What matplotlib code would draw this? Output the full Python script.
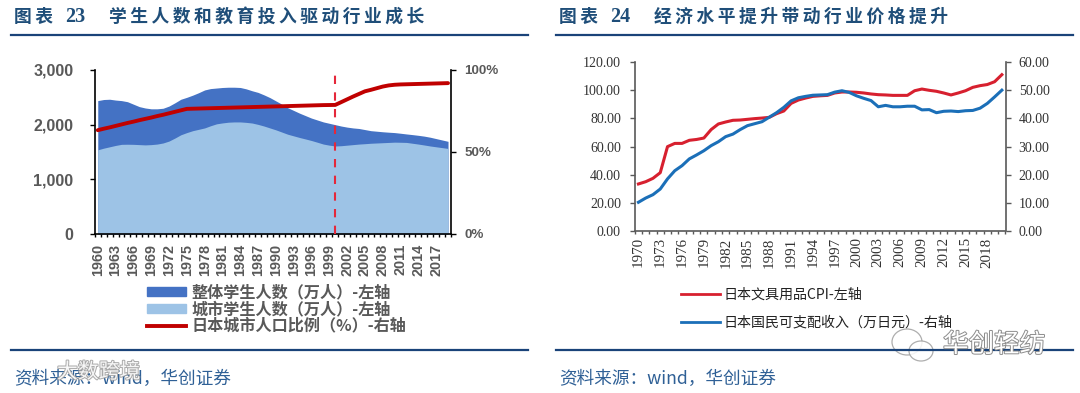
import matplotlib
matplotlib.use('Agg')
import matplotlib.pyplot as plt
import numpy as np
from matplotlib.lines import Line2D
from matplotlib.patches import Ellipse, Patch
import matplotlib.patheffects as pe

W, H = 1080, 393
CJK = ['Noto Sans CJK SC', 'DejaVu Sans']
TITLE_BLUE = '#1f4e79'
RULE_BLUE = '#1a4379'

# chart 23
years_a = list(range(1960, 2020))
total_students = [2440, 2460, 2465, 2450, 2440, 2420, 2375, 2330, 2305, 2290,
                  2290, 2300, 2340, 2400, 2465, 2500, 2540, 2585, 2635, 2660,
                  2670, 2680, 2685, 2685, 2680, 2655, 2620, 2590, 2545, 2495,
                  2435, 2375, 2310, 2260, 2210, 2165, 2120, 2085, 2050, 2025,
                  2000, 1975, 1955, 1940, 1930, 1910, 1890, 1880, 1870, 1862,
                  1855, 1843, 1830, 1818, 1805, 1790, 1770, 1745, 1720, 1695]
urban_students = [1540, 1570, 1595, 1620, 1640, 1642, 1640, 1635, 1630, 1635,
                  1645, 1665, 1700, 1755, 1815, 1855, 1890, 1915, 1940, 1980,
                  2015, 2032, 2045, 2050, 2050, 2042, 2030, 2005, 1975, 1940,
                  1905, 1865, 1825, 1795, 1765, 1738, 1710, 1678, 1645, 1625,
                  1610, 1615, 1625, 1635, 1645, 1652, 1660, 1665, 1670, 1675,
                  1680, 1678, 1675, 1660, 1645, 1628, 1610, 1595, 1580, 1565]
urban_ratio = [63.3, 64.2, 65.0, 65.9, 66.8, 67.7, 68.5, 69.4, 70.2, 71.0,
               71.9, 72.7, 73.6, 74.5, 75.4, 76.3, 76.4, 76.5, 76.6, 76.7,
               76.8, 76.9, 77.0, 77.1, 77.2, 77.3, 77.4, 77.5, 77.6, 77.7,
               77.8, 77.9, 78.0, 78.1, 78.2, 78.3, 78.4, 78.5, 78.6, 78.65,
               78.7, 80.4, 82.1, 83.8, 85.4, 87.0, 87.9, 88.9, 89.9, 90.6,
               91.0, 91.2, 91.3, 91.4, 91.5, 91.6, 91.7, 91.8, 91.9, 92.0]
labels_a = ['整体学生人数（万人）-左轴', '城市学生人数（万人）-左轴', '日本城市人口比例（%）-右轴']

# chart 24
years_b = list(range(1970, 2021))
cpi = [33.4, 35.0, 37.4, 41.4, 59.9, 62.2, 62.2, 64.4, 65.0, 66.0,
       72.0, 76.0, 77.4, 78.6, 78.8, 79.3, 79.8, 80.2, 80.7, 83.3,
       85.2, 90.6, 93.0, 94.4, 95.6, 96.0, 96.3, 98.0, 98.7, 98.7,
       98.5, 98.0, 97.3, 96.8, 96.6, 96.3, 96.3, 96.3, 99.6, 100.8,
       99.9, 99.2, 98.0, 96.6, 98.0, 99.6, 102.0, 103.2, 104.0, 106.0, 111.0]
income = [10.2, 11.7, 12.9, 14.9, 18.5, 21.4, 23.2, 25.6, 27.0, 28.5,
          30.3, 31.7, 33.5, 34.4, 36.0, 37.4, 38.1, 38.8, 40.4, 42.0,
          43.9, 46.2, 47.3, 47.8, 48.2, 48.3, 48.4, 49.3, 49.8, 49.2,
          48.0, 47.1, 46.3, 44.1, 44.6, 44.1, 44.1, 44.3, 44.3, 43.0,
          43.1, 42.0, 42.5, 42.6, 42.4, 42.7, 42.8, 43.6, 45.3, 47.6, 50.0]
labels_b = ['日本文具用品CPI-左轴', '日本国民可支配收入（万日元）-右轴']


def make_axes(fig, x0, x1, y_top, y_bottom):
    return fig.add_axes([x0 / W, 1 - y_bottom / H, (x1 - x0) / W, (y_bottom - y_top) / H])


def px(x, y):
    return x / W, 1 - y / H


def spaced(s):
    return '\u2009'.join(s)


def set_year_axis(ax, first, last, step, size, family, color, weight, pad):
    ax.set_xlim(first - 0.5, last + 0.5)
    years = np.arange(first, last + 1, step)
    ax.set_xticks(years)
    ax.set_xticklabels([str(y) for y in years], rotation=90, fontsize=size, family=family,
                       color=color, weight=weight)
    ax.set_xticks(np.arange(first - 0.5, last + 1), minor=True)
    ax.tick_params(axis='x', which='major', length=0, pad=pad)
    ax.tick_params(axis='x', which='minor', length=2.5, width=1, direction='out')


fig = plt.figure(figsize=(W / 100, H / 100), dpi=100)
fig.patch.set_facecolor('white')

# left chart
ax = make_axes(fig, 94.8, 451, 70, 234)
ax.fill_between(years_a, total_students, color='#4472c4', lw=0)
ax.fill_between(years_a, urban_students, color='#9dc3e6', lw=0)
ax.set_ylim(0, 3000)
ax.set_yticks([0, 1000, 2000, 3000])
ax.set_yticklabels(['0', '1,000', '2,000', '3,000'], family='Liberation Sans', weight='bold',
                   fontsize=11.5, color='#595959')
ax.tick_params(axis='y', length=3.5, width=1, pad=12)
set_year_axis(ax, 1960, 2019, 3, 10.4, 'Liberation Sans', '#595959', 'bold', 7)
ax.spines['top'].set_visible(False)
ax.spines['right'].set_visible(False)
for s in ['left', 'bottom']:
    ax.spines[s].set_linewidth(1.2)

ax2 = ax.twinx()
ax2.plot(years_a, urban_ratio, color='#c00000', lw=2.8, solid_capstyle='round')
ax2.plot([2000, 2000], [0, 98], color='#e5283a', lw=1.5, ls=(0, (4, 4)))
ax2.set_ylim(0, 100)
ax2.set_yticks([0, 50, 100])
ax2.set_yticklabels(['0%', '50%', '100%'], family='Liberation Sans', weight='bold',
                    fontsize=9.6, color='#595959')
ax2.tick_params(axis='y', length=3.5, width=1, pad=6)
ax2.spines['top'].set_visible(False)
ax2.spines['left'].set_visible(False)
ax2.spines['bottom'].set_visible(False)
ax2.spines['right'].set_linewidth(1.2)

handles_a = [Patch(color='#4472c4'), Patch(color='#9dc3e6'), Line2D([], [], color='#c00000', lw=2.8)]
fig.legend(handles_a, labels_a, loc='center left', bbox_to_anchor=px(147, 309), frameon=False,
           prop={'family': CJK, 'size': 11.6, 'weight': 'bold'}, labelcolor='#595959',
           handlelength=2.4, handleheight=0.5, handletextpad=0.35, labelspacing=0.05, borderpad=0, borderaxespad=0)

# right chart
bx = make_axes(fig, 634.8, 1005.5, 62, 231)
bx.plot(years_b, cpi, color='#d7202f', lw=2.2)
bx.set_ylim(0, 120)
bx.set_yticks(np.arange(0, 121, 20))
bx.set_yticklabels(['%.2f' % v for v in np.arange(0, 121, 20)], family='Liberation Serif',
                   fontsize=10, color='#333333')
bx.tick_params(axis='y', length=3.5, width=1, pad=6.5, color='#595959')
set_year_axis(bx, 1970, 2020, 3, 10.8, 'Liberation Serif', '#333333', 'normal', 4.5)
bx.tick_params(axis='x', which='minor', color='#595959')
bx.spines['top'].set_visible(False)
bx.spines['right'].set_visible(False)
for s in ['left', 'bottom']:
    bx.spines[s].set_linewidth(1.2)
    bx.spines[s].set_color('#595959')

bx2 = bx.twinx()
bx2.plot(years_b, income, color='#1b6fb8', lw=2.2)
bx2.set_ylim(0, 60)
bx2.set_yticks(np.arange(0, 61, 10))
bx2.set_yticklabels(['%.2f' % v for v in np.arange(0, 61, 10)], family='Liberation Serif',
                    fontsize=10, color='#333333')
bx2.tick_params(axis='y', length=3.5, width=1, pad=6, color='#595959')
bx2.spines['top'].set_visible(False)
bx2.spines['left'].set_visible(False)
bx2.spines['bottom'].set_visible(False)
bx2.spines['right'].set_linewidth(1.2)
bx2.spines['right'].set_color('#595959')

handles_b = [Line2D([], [], color='#d7202f', lw=2), Line2D([], [], color='#1b6fb8', lw=2)]
fig.legend(handles_b, labels_b, loc='center left', bbox_to_anchor=px(680.7, 308.5), frameon=False,
           prop={'family': CJK, 'size': 10.1}, labelcolor='#222222',
           handlelength=2.8, handletextpad=0.25, labelspacing=1.0, borderpad=0, borderaxespad=0)

# titles and rules
for x0, x1, no_x, txt_x, no, title in [(11.4, 527.6, 14.5, 109, '23', '学生人数和教育投入驱动行业成长'),
                                       (556, 1072.8, 559, 654, '24', '经济水平提升带动行业价格提升')]:
    x, y = px(no_x, 17)
    fig.text(x, y, spaced('图表'), family=CJK, fontsize=12.8, weight='bold', color=TITLE_BLUE, va='center')
    x, y = px(no_x + 51, 17)
    fig.text(x, y, no, family='Liberation Serif', fontsize=14.5, weight='bold', color=TITLE_BLUE, va='center')
    x, y = px(txt_x, 17)
    fig.text(x, y, spaced(title), family=CJK, fontsize=12.8, weight='bold', color=TITLE_BLUE, va='center')
    for ry in [34.5, 350]:
        fig.add_artist(Line2D([x0 / W, x1 / W], [1 - ry / H, 1 - ry / H], color=RULE_BLUE, lw=1.6))
    x, y = px(x0 + 3, 379)
    fig.text(x, y, '资料来源：wind，华创证券', family=['Noto Sans CJK SC', 'Liberation Serif'],
             fontsize=12.7, color='#2f6096', va='center', style='italic')

# watermarks
outline = [pe.withStroke(linewidth=1.4, foreground='#a0a0a0')]
x, y = px(57, 372)
fig.text(x, y, '大数跨境', family=CJK, fontsize=15, color='white', va='center', path_effects=outline, alpha=0.9)
x, y = px(943, 345)
fig.text(x, y, '华创轻纺', family=CJK, fontsize=18.4, color='#ffffff', va='center',
         path_effects=[pe.withStroke(linewidth=1.4, foreground='#8c8c8c')])
for cx, cy, rx, ry in [(907, 342, 15, 13), (921, 351, 12, 10)]:
    ex, ey = px(cx, cy)
    fig.add_artist(Ellipse((ex, ey), 2 * rx / W, 2 * ry / H, transform=fig.transFigure,
                           facecolor='white', edgecolor='#a0a0a0', lw=0.9, alpha=0.85))

plt.savefig('out.png', dpi=100)
